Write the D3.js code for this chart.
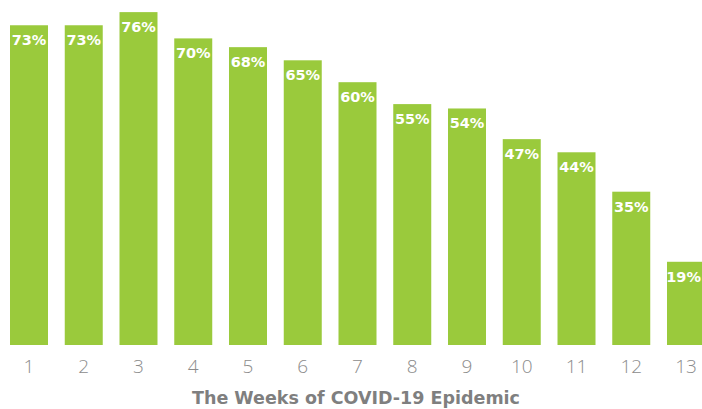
<!DOCTYPE html>
<html>
<head>
<meta charset="utf-8">
<script src="https://cdn.jsdelivr.net/npm/d3@7"></script>
<style>
  html, body { margin: 0; padding: 0; background: #ffffff; }
  svg { display: block; }
</style>
</head>
<body>
<div id="chart"></div>
<script>
const weeks = ["1", "2", "3", "4", "5", "6", "7", "8", "9", "10", "11", "12", "13"];
const percentages = [73, 73, 76, 70, 68, 65, 60, 55, 54, 47, 44, 35, 19];
const axisTitle = "The Weeks of COVID-19 Epidemic";

const width = 702, height = 409;
const svg = d3.select("#chart").append("svg")
  .attr("width", width).attr("height", height);

const x = d3.scaleBand()
  .domain(weeks)
  .range([10, 705])
  .paddingInner(0.306)
  .paddingOuter(0);

const y = d3.scaleLinear()
  .domain([0, 100])
  .range([345, -93]);

const data = weeks.map((w, i) => ({ week: w, value: percentages[i] }));

svg.append("g").selectAll("rect")
  .data(data)
  .join("rect")
  .attr("x", d => x(d.week))
  .attr("y", d => y(d.value))
  .attr("width", x.bandwidth())
  .attr("height", d => y(0) - y(d.value))
  .attr("fill", "#9ACA3C");

svg.append("g").selectAll("text")
  .data(data)
  .join("text")
  .attr("x", d => x(d.week) + x.bandwidth() / 2)
  .attr("y", d => y(d.value) + 20)
  .attr("text-anchor", "middle")
  .attr("font-family", "'DejaVu Sans', sans-serif")
  .attr("font-weight", "bold")
  .attr("font-size", "14.5px")
  .attr("fill", "#ffffff")
  .text(d => d.value + "%")
  .each(function() {
    const w = this.getComputedTextLength();
    const cx = +this.getAttribute("x");
    const maxCx = width - 1 - w / 2;
    if (cx > maxCx) this.setAttribute("x", maxCx);
  });

const xAxis = d3.axisBottom(x).tickSize(0).tickPadding(0);
const gx = svg.append("g")
  .attr("transform", "translate(0,359)")
  .call(xAxis);
gx.select(".domain").remove();
gx.selectAll("text")
  .attr("dy", "0.71em")
  .attr("font-family", "'Open Sans', sans-serif")
  .attr("font-weight", "300")
  .attr("font-size", "19px")
  .attr("fill", "#8c8c8c");

svg.append("text")
  .attr("x", 356)
  .attr("y", 404)
  .attr("text-anchor", "middle")
  .attr("font-family", "'DejaVu Sans', sans-serif")
  .attr("font-weight", "bold")
  .attr("font-size", "17.5px")
  .attr("fill", "#7f7f7f")
  .text(axisTitle);
</script>
</body>
</html>
